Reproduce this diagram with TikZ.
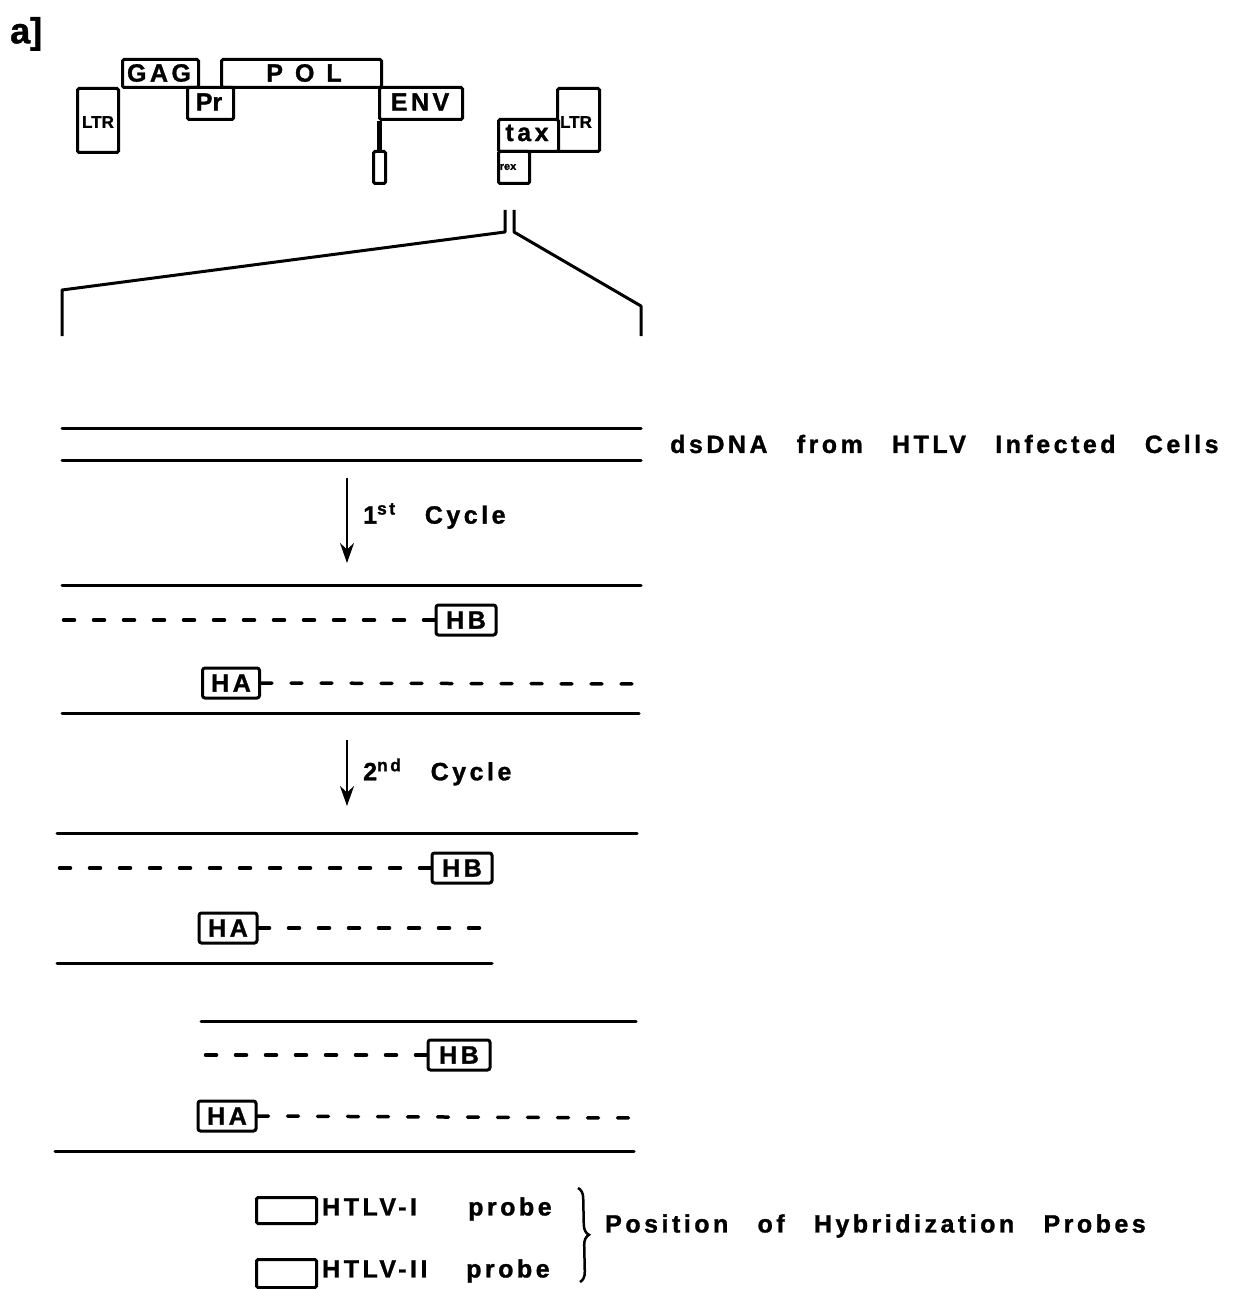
\documentclass[tikz,border=0pt]{standalone}
\usepackage{fontspec}
\setmainfont{Liberation Sans}
\newfontfamily\spc[LetterSpace=14,WordSpace=2.8,BoldFeatures={FakeBold=1.2}]{Liberation Sans}
\newfontfamily\wide[LetterSpace=48,BoldFeatures={FakeBold=1.2}]{Liberation Sans}
\newfontfamily\nsp[BoldFeatures={FakeBold=1.2}]{Liberation Sans}
\usetikzlibrary{arrows.meta,decorations.pathreplacing}
\tikzset{
  ln/.style={line width=3pt},
  gbox/.style={draw, line width=3pt, inner sep=0pt, rounded corners=1.5pt, anchor=north west},
  pbox/.style={draw, line width=3pt, inner sep=0pt, rounded corners=2.5pt, minimum width=60pt, minimum height=30pt,
     font=\spc\bfseries\fontsize{25}{28}\selectfont},
  strand/.style={line width=3pt, line cap=round},
  dsh/.style={line width=3.5pt, line cap=round, dash pattern=on 11pt off 19pt},
  lbl/.style={inner sep=0pt, anchor=west, font=\spc\bfseries\fontsize{25}{28}\selectfont},
  arr/.style={line width=2.5pt, -{Stealth[length=20pt,width=14pt]}},
}
\begin{document}
\begin{tikzpicture}[x=1pt,y=-1pt]
\useasboundingbox (0,0) rectangle (1242,1289);
% panel label
\node[inner sep=0pt, anchor=west, font=\nsp\bfseries\fontsize{36}{40}\selectfont] (lab) at (10,34) {a]};
% genome map
\node[gbox, minimum width=41pt, minimum height=64pt] (ltrL) at (76,87) {};
\node[inner sep=0pt, font=\nsp\bfseries\fontsize{17}{20}\selectfont] (ltrLt) at (98,122) {LTR};
\node[gbox, minimum width=76pt, minimum height=28pt] (gag) at (121,58) {};
\node[inner sep=0pt, font=\spc\bfseries\fontsize{25}{28}\selectfont] (gagt) at (159,73) {GAG};
\node[gbox, minimum width=160pt, minimum height=28pt] (pol) at (220,58) {};
\node[inner sep=0pt, font=\wide\bfseries\fontsize{25}{28}\selectfont] (polt) at (304,73) {POL};
\node[gbox, minimum width=46pt, minimum height=32pt] (pr) at (186,86) {};
\node[inner sep=0pt, font=\nsp\bfseries\fontsize{25}{28}\selectfont] (prt) at (209,102) {Pr};
\node[gbox, minimum width=83pt, minimum height=32pt] (env) at (378,86) {};
\node[inner sep=0pt, font=\spc\bfseries\fontsize{25}{28}\selectfont] (envt) at (420,102) {ENV};
\node[gbox, minimum width=12pt, minimum height=32pt] (sm) at (372,150) {};
\draw[line width=5pt] (sm.north) -- (sm.north |- env.south);
\node[gbox, minimum width=42pt, minimum height=63pt] (ltrR) at (556,87) {};
\node[inner sep=0pt, font=\nsp\bfseries\fontsize{17}{20}\selectfont] (ltrRt) at (576,122) {LTR};
\node[gbox, minimum width=60pt, minimum height=32pt, fill=white] (tax) at (497,118) {};
\node[inner sep=0pt, font=\spc\bfseries\fontsize{25}{28}\selectfont] (taxt) at (527,133) {tax};
\node[gbox, minimum width=31pt, minimum height=32pt] (rex) at (497,150) {};
\node[inner sep=0pt, font=\nsp\bfseries\fontsize{11}{12}\selectfont] (rext) at (508,167) {rex};
% expansion bracket
\coordinate (e1) at (505,210); \coordinate (e2) at (505,232);
\coordinate (e3) at (62,290);  \coordinate (e4) at (62,336);
\coordinate (f1) at (514,210); \coordinate (f2) at (514,232);
\coordinate (f3) at (641,306); \coordinate (f4) at (641,336);
\draw[ln, line join=round] (e1) -- (e2) -- (e3) -- (e4);
\draw[ln, line join=round] (f1) -- (f2) -- (f3) -- (f4);
% dsDNA
\coordinate (a1) at (62,428); \coordinate (a2) at (641,428);
\coordinate (b1) at (62,460); \coordinate (b2) at (641,460);
\draw[strand] (a1) -- (a2);
\draw[strand] (b1) -- (b2);
\node[lbl] (ds) at (670,444) {dsDNA from HTLV Infected Cells};
% 1st cycle
\coordinate (c1s) at (347,478); \coordinate (c1e) at (347,563);
\draw[arr] (c1s) -- (c1e);
\node[lbl] (cyc1) at (363,516) {1\textsuperscript{st} Cycle};
\coordinate (g1) at (62,585); \coordinate (g2) at (641,585);
\draw[strand] (g1) -- (g2);
\node[pbox] (hb1) at (466,620) {HB};
\coordinate (h1) at (62,620);
\draw[dsh] (hb1.west) -- (h1);
\node[pbox, minimum width=57pt] (ha1) at (231,683) {HA};
\coordinate (h2) at (641,684);
\draw[dsh] (ha1.east) -- (h2);
\coordinate (k1) at (62,713); \coordinate (k2) at (639,713);
\draw[strand] (k1) -- (k2);
% 2nd cycle
\coordinate (c2s) at (347,740); \coordinate (c2e) at (347,806);
\draw[arr] (c2s) -- (c2e);
\node[lbl] (cyc2) at (363,772) {2\textsuperscript{nd} Cycle};
\coordinate (m1) at (57,833); \coordinate (m2) at (637,833);
\draw[strand] (m1) -- (m2);
\node[pbox] (hb2) at (462,868) {HB};
\coordinate (n1) at (57,868);
\draw[dsh] (hb2.west) -- (n1);
\node[pbox, minimum width=58pt] (ha2) at (228,928) {HA};
\coordinate (n2) at (490,928);
\draw[dsh] (ha2.east) -- (n2);
\coordinate (p1) at (57,963); \coordinate (p2) at (492,963);
\draw[strand] (p1) -- (p2);
\coordinate (q1) at (201,1021); \coordinate (q2) at (636,1021);
\draw[strand] (q1) -- (q2);
\node[pbox, minimum width=62pt] (hb3) at (459,1055) {HB};
\coordinate (r1) at (201,1055);
\draw[dsh] (hb3.west) -- (r1);
\node[pbox, minimum width=58pt] (ha3) at (227,1116) {HA};
\coordinate (r2) at (636,1118);
\draw[dsh] (ha3.east) -- (r2);
\coordinate (u1) at (55,1151); \coordinate (u2) at (634,1151);
\draw[strand] (u1) -- (u2);
% legend
\node[gbox, minimum width=60pt, minimum height=26pt] (lg1) at (255,1196) {};
\node[lbl] (lg1t) at (322,1209) {\makebox[146pt][l]{HTLV-I}probe};
\node[gbox, minimum width=60pt, minimum height=28pt] (lg2) at (255,1258) {};
\node[lbl] (lg2t) at (322,1271) {\makebox[144pt][l]{HTLV-II}probe};
\coordinate (br1) at (578,1188); \coordinate (br2) at (580,1282);
\draw[line width=2.5pt, decorate, decoration={brace, amplitude=10pt}] (br1) -- (br2);
\node[lbl] (pos) at (605,1226) {Position of Hybridization Probes};
\end{tikzpicture}
\end{document}
